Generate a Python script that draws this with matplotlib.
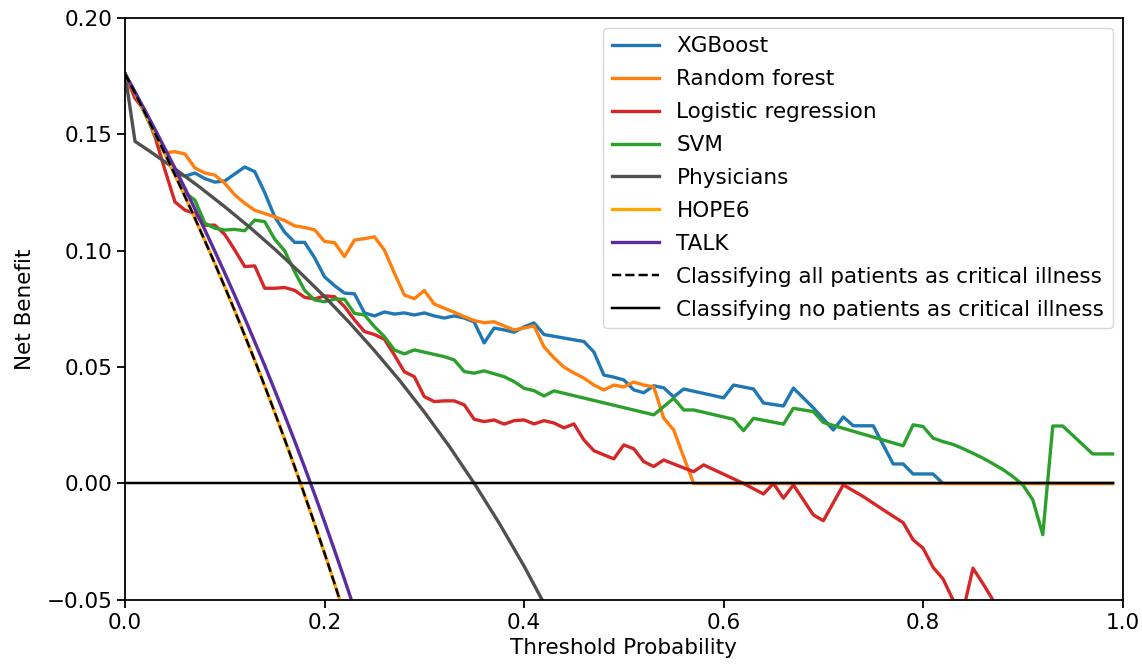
import matplotlib.pyplot as plt

# --- data ---
xgb_x = [0.00, 0.01, 0.02, 0.03, 0.04, 0.05, 0.06, 0.07, 0.08, 0.09, 0.10, 0.11, 0.12, 0.13,
         0.14, 0.15, 0.16, 0.17, 0.18, 0.19, 0.20, 0.21, 0.22, 0.23, 0.24, 0.25, 0.26, 0.27,
         0.28, 0.29, 0.30, 0.31, 0.32, 0.33, 0.34, 0.35, 0.36, 0.37, 0.38, 0.39, 0.40, 0.41,
         0.42, 0.46, 0.47, 0.48, 0.49, 0.50, 0.51, 0.52, 0.53, 0.54, 0.55, 0.56, 0.60, 0.61,
         0.63, 0.64, 0.66, 0.67, 0.69, 0.71, 0.72, 0.73, 0.75, 0.77, 0.78, 0.79, 0.81, 0.82, 0.99]
xgb_nb = [0.176, 0.168, 0.159, 0.150, 0.142, 0.134, 0.132, 0.1334, 0.131, 0.1295, 0.130, 0.133,
          0.136, 0.134, 0.125, 0.1146, 0.108, 0.1036, 0.1036, 0.097, 0.0888, 0.085, 0.0818,
          0.0815, 0.0733, 0.072, 0.0737, 0.0728, 0.0733, 0.0724, 0.0733, 0.072, 0.0711, 0.072,
          0.0711, 0.0694, 0.0604, 0.0668, 0.066, 0.065, 0.0673, 0.069, 0.064, 0.061, 0.0565,
          0.0466, 0.0457, 0.0445, 0.0402, 0.039, 0.042, 0.0411, 0.0372, 0.0406, 0.0368, 0.0423,
          0.0406, 0.0346, 0.0333, 0.041, 0.0325, 0.023, 0.0286, 0.0248, 0.0248, 0.0084, 0.0084,
          0.0041, 0.0041, 0.0, 0.0]

rf_x = [0.00, 0.01, 0.02, 0.03, 0.04, 0.05, 0.06, 0.07, 0.08, 0.09, 0.10, 0.11, 0.12, 0.13,
        0.14, 0.15, 0.16, 0.17, 0.18, 0.19, 0.20, 0.21, 0.22, 0.23, 0.24, 0.25, 0.26, 0.27,
        0.28, 0.29, 0.30, 0.31, 0.32, 0.33, 0.34, 0.35, 0.36, 0.37, 0.38, 0.39, 0.40, 0.41,
        0.42, 0.43, 0.44, 0.45, 0.46, 0.47, 0.48, 0.49, 0.50, 0.51, 0.52, 0.53, 0.54, 0.55,
        0.56, 0.57, 0.99]
rf_nb = [0.176, 0.168, 0.159, 0.150, 0.142, 0.1426, 0.1416, 0.1356, 0.1334, 0.1325, 0.129,
         0.124, 0.1204, 0.1174, 0.116, 0.1146, 0.113, 0.1107, 0.110, 0.109, 0.104, 0.1035,
         0.0975, 0.1046, 0.1052, 0.106, 0.1003, 0.0904, 0.081, 0.0794, 0.0829, 0.0771, 0.0753,
         0.0736, 0.0717, 0.070, 0.0691, 0.0695, 0.0677, 0.066, 0.0668, 0.0677, 0.0587, 0.054,
         0.050, 0.0475, 0.0453, 0.0423, 0.0402, 0.0423, 0.0415, 0.0436, 0.0423, 0.0415, 0.0281,
         0.023, 0.0114, 0.0, 0.0]

lr_x = [0.00, 0.01, 0.02, 0.03, 0.04, 0.05, 0.06, 0.07, 0.08, 0.09, 0.10, 0.11, 0.12, 0.13,
        0.14, 0.15, 0.16, 0.17, 0.18, 0.19, 0.20, 0.21, 0.22, 0.23, 0.24, 0.25, 0.26, 0.27,
        0.28, 0.29, 0.30, 0.31, 0.32, 0.33, 0.34, 0.35, 0.36, 0.37, 0.38, 0.39, 0.40, 0.41,
        0.42, 0.43, 0.44, 0.45, 0.46, 0.47, 0.48, 0.49, 0.50, 0.51, 0.52, 0.53, 0.54, 0.55,
        0.56, 0.57, 0.58, 0.59, 0.60, 0.61, 0.62, 0.64, 0.65, 0.66, 0.67, 0.69, 0.70, 0.72,
        0.74, 0.76, 0.78, 0.79, 0.80, 0.81, 0.82, 0.83, 0.84, 0.85, 0.86, 0.87, 0.88]
lr_nb = [0.176, 0.1655, 0.160, 0.149, 0.1347, 0.121, 0.1175, 0.116, 0.111, 0.111, 0.107,
         0.1003, 0.0932, 0.0935, 0.0839, 0.0839, 0.0842, 0.083, 0.080, 0.0793, 0.0806, 0.0803,
         0.076, 0.0703, 0.0653, 0.064, 0.062, 0.0552, 0.048, 0.0459, 0.0373, 0.0352, 0.0355,
         0.0355, 0.0338, 0.0276, 0.0266, 0.0273, 0.0255, 0.027, 0.0273, 0.0256, 0.027, 0.026,
         0.0239, 0.0256, 0.0187, 0.0141, 0.0123, 0.0106, 0.0166, 0.0149, 0.0094, 0.0073, 0.0101,
         0.0084, 0.0067, 0.0051, 0.008, 0.006, 0.004, 0.002, 0.0, -0.0045, 0.0, -0.0063,
         -0.0006, -0.0135, -0.016, -0.0006, -0.0056, -0.0113, -0.0168, -0.0242, -0.0278,
         -0.036, -0.041, -0.050, -0.055, -0.0364, -0.043, -0.050, -0.058]

svm_x = [0.00, 0.01, 0.02, 0.03, 0.04, 0.05, 0.06, 0.07, 0.08, 0.09, 0.10, 0.11, 0.12, 0.13,
         0.14, 0.15, 0.16, 0.17, 0.18, 0.19, 0.20, 0.21, 0.22, 0.23, 0.24, 0.25, 0.26, 0.27,
         0.28, 0.29, 0.32, 0.33, 0.34, 0.35, 0.36, 0.38, 0.39, 0.40, 0.41, 0.42, 0.43, 0.53,
         0.55, 0.56, 0.57, 0.61, 0.62, 0.63, 0.66, 0.67, 0.69, 0.70, 0.78, 0.79, 0.80, 0.81,
         0.82, 0.83, 0.84, 0.85, 0.86, 0.87, 0.88, 0.89, 0.90, 0.91, 0.92, 0.93, 0.94, 0.95,
         0.96, 0.97, 0.98, 0.99]
svm_nb = [0.176, 0.168, 0.159, 0.150, 0.142, 0.133, 0.125, 0.1218, 0.1118, 0.1097, 0.1089,
          0.1092, 0.1086, 0.1132, 0.1125, 0.105, 0.100, 0.091, 0.083, 0.0789, 0.0781, 0.0792,
          0.0792, 0.0731, 0.0724, 0.0674, 0.0631, 0.0574, 0.0557, 0.0574, 0.0545, 0.0531,
          0.0481, 0.0474, 0.0484, 0.0459, 0.0438, 0.0409, 0.0399, 0.0376, 0.0398, 0.0295,
          0.0366, 0.0316, 0.0316, 0.0276, 0.0227, 0.028, 0.0255, 0.0323, 0.0309, 0.0262,
          0.0162, 0.0252, 0.0245, 0.0195, 0.018, 0.0168, 0.015, 0.013, 0.0109, 0.0085, 0.006,
          0.003, -0.0006, -0.007, -0.022, 0.0247, 0.0247, 0.0207, 0.0167, 0.0127, 0.0127, 0.0127]

phys_x = [0.00, 0.01, 0.025, 0.05, 0.075, 0.10, 0.125, 0.15, 0.175, 0.20, 0.225, 0.25,
          0.275, 0.30, 0.325, 0.35, 0.375, 0.40, 0.42]
phys_nb = [0.176, 0.147, 0.1427, 0.1352, 0.1273, 0.1189, 0.1101, 0.1007, 0.0908, 0.0803,
           0.0691, 0.0571, 0.0444, 0.0307, 0.0160, 0.0001, -0.0170, -0.0355, -0.0515]

curve_x = [0.00, 0.01, 0.02, 0.03, 0.04, 0.05, 0.06, 0.07, 0.08, 0.09, 0.10, 0.11, 0.12,
           0.13, 0.14, 0.15, 0.16, 0.17, 0.18, 0.19, 0.20, 0.21, 0.22, 0.23]
hope6_nb = [0.1760, 0.1677, 0.1592, 0.1505, 0.1417, 0.1326, 0.1234, 0.1140, 0.1043, 0.0945,
            0.0844, 0.0742, 0.0636, 0.0529, 0.0419, 0.0306, 0.0190, 0.0072, -0.0049, -0.0173,
            -0.0300, -0.0430, -0.0564, -0.0701]
talk_nb = [0.1760, 0.1682, 0.1603, 0.1522, 0.1439, 0.1355, 0.1269, 0.1180, 0.1090, 0.0998,
           0.0904, 0.0808, 0.0710, 0.0609, 0.0507, 0.0401, 0.0293, 0.0183, 0.0070, -0.0046,
           -0.0165, -0.0287, -0.0412, -0.0540]
treat_all_nb = [0.1760, 0.1677, 0.1592, 0.1505, 0.1417, 0.1326, 0.1234, 0.1140, 0.1043, 0.0945,
                0.0844, 0.0742, 0.0636, 0.0529, 0.0419, 0.0306, 0.0190, 0.0072, -0.0049,
                -0.0173, -0.0300, -0.0430, -0.0564, -0.0701]
none_x = [0.0, 0.99]
none_nb = [0.0, 0.0]

# --- plot ---
plt.rcParams['font.family'] = 'DejaVu Sans'
plt.rcParams['font.size'] = 15.5

fig = plt.figure(figsize=(11.42, 6.68), dpi=100)
ax = fig.add_axes([0.1095, 0.102, 0.8735, 0.871])

lw = 2.4
ax.plot(xgb_x, xgb_nb, color='#1f77b4', lw=lw, label='XGBoost')
ax.plot(rf_x, rf_nb, color='#ff7f0e', lw=lw, label='Random forest')
ax.plot(lr_x, lr_nb, color='#d62728', lw=lw, label='Logistic regression')
ax.plot(svm_x, svm_nb, color='#2ca02c', lw=lw, label='SVM')
ax.plot(phys_x, phys_nb, color='#505050', lw=lw, label='Physicians')
ax.plot(curve_x, hope6_nb, color='#ffa500', lw=lw, label='HOPE6')
ax.plot(curve_x, talk_nb, color='#5b2ca0', lw=lw, label='TALK')
ax.plot(curve_x, treat_all_nb, color='black', lw=lw * 0.75, ls='--',
        label='Classifying all patients as critical illness')
ax.plot(none_x, none_nb, color='black', lw=lw * 0.75,
        label='Classifying no patients as critical illness')

ax.set_xlim(0, 1)
ax.set_ylim(-0.05, 0.20)
ax.set_xticks([0.0, 0.2, 0.4, 0.6, 0.8, 1.0])
ax.set_yticks([-0.05, 0.00, 0.05, 0.10, 0.15, 0.20])
ax.set_xlabel('Threshold Probability', labelpad=4)
ax.set_ylabel('Net Benefit', labelpad=8)
for s in ax.spines.values():
    s.set_linewidth(1.3)
ax.tick_params(width=1.3, length=5.6)

ax.legend(loc='upper right', fontsize=15.5, handlelength=2.2, handletextpad=0.8,
          borderaxespad=0.45, labelspacing=0.6, framealpha=0.8)

fig.savefig('out.png', dpi=100)
